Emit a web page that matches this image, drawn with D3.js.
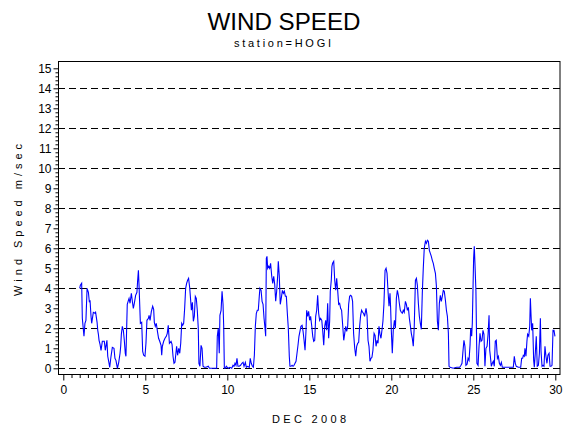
<!DOCTYPE html>
<html>
<head>
<meta charset="utf-8">
<script src="https://cdn.jsdelivr.net/npm/d3@7"></script>
<style>
  body { margin: 0; background: #fff; }
  text { font-family: "Liberation Sans", Arial, sans-serif; fill: #000; }
</style>
</head>
<body>
<svg width="570" height="430"></svg>
<script>
const obsDay = [
  1.00,1.04,1.12,1.16,1.26,1.32,1.38,1.45,1.53,1.59,1.63,1.69,1.73,1.83,1.93,1.97,
  2.06,2.10,2.14,2.18,2.24,2.30,2.38,2.50,2.56,2.66,2.71,2.79,2.83,2.91,2.99,
  3.09,3.15,3.21,3.30,3.38,3.46,3.50,3.54,3.60,3.66,3.72,3.78,3.82,3.86,3.90,3.97,
  4.01,4.07,4.15,4.21,4.27,4.33,4.41,4.49,4.53,4.58,4.62,4.70,4.78,4.84,4.90,4.98,
  5.04,5.10,5.19,5.23,5.29,5.37,5.45,5.51,5.55,5.61,5.67,5.75,5.81,5.88,5.96,
  6.00,6.04,6.12,6.20,6.28,6.34,6.40,6.47,6.57,6.63,6.69,6.75,6.81,6.91,6.97,
  7.04,7.10,7.16,7.22,7.28,7.34,7.40,7.46,7.52,7.58,7.64,7.71,7.77,7.81,7.87,7.93,7.99,
  8.05,8.11,8.17,8.23,8.27,8.33,8.40,8.46,8.52,8.60,8.70,8.84,8.91,
  9.35,9.39,9.45,9.51,9.55,9.62,9.68,9.74,9.78,9.82,9.88,9.94,
  10.00,10.06,10.16,10.27,10.35,10.41,10.47,10.53,10.59,10.65,10.73,10.81,10.89,10.96,
  11.02,11.10,11.16,11.24,11.34,11.40,11.46,11.53,11.59,11.65,11.71,11.77,11.83,11.89,11.95,11.99,
  12.06,12.12,12.18,12.24,12.30,12.34,12.38,12.42,12.46,12.52,12.58,12.64,12.71,12.77,12.83,12.89,12.95,
  13.01,13.07,13.11,13.17,13.23,13.29,13.36,13.42,13.48,13.54,13.60,13.66,13.72,13.78,13.82,13.88,13.95,
  14.01,14.07,14.13,14.19,14.25,14.31,14.37,14.43,14.49,14.56,14.62,14.68,14.74,14.80,14.84,14.90,14.96,
  15.02,15.08,15.15,15.21,15.27,15.33,15.39,15.45,15.51,15.57,15.63,15.69,15.76,15.82,15.88,15.94,
  16.00,16.06,16.12,16.18,16.24,16.28,16.34,16.38,16.42,16.49,16.55,16.61,16.67,16.73,16.79,16.85,16.91,16.97,
  17.04,17.10,17.16,17.22,17.28,17.34,17.40,17.46,17.52,17.58,17.64,17.70,17.77,17.83,17.89,17.95,
  18.01,18.07,18.13,18.19,18.25,18.31,18.37,18.46,18.52,18.58,18.64,18.70,18.76,18.82,18.88,18.95,
  19.01,19.07,19.13,19.19,19.25,19.31,19.37,19.43,19.49,19.55,19.62,19.68,19.74,19.80,19.86,19.92,19.96,
  20.00,20.06,20.12,20.19,20.25,20.31,20.37,20.43,20.49,20.55,20.61,20.67,20.73,20.79,20.86,20.92,20.98,
  21.04,21.10,21.16,21.22,21.28,21.34,21.40,21.47,21.53,21.59,21.65,21.71,21.77,21.83,21.89,21.95,
  22.01,22.08,22.14,22.20,22.26,22.32,22.38,22.44,22.50,22.56,22.62,22.69,22.75,22.81,22.87,22.93,22.99,
  23.05,23.11,23.17,23.23,23.30,23.36,23.42,23.48,23.52,23.58,23.78,23.99,
  24.17,24.25,24.31,24.37,24.43,24.49,24.55,24.62,24.68,24.74,24.80,24.84,24.90,24.94,24.98,
  25.02,25.06,25.10,25.16,25.22,25.29,25.35,25.41,25.47,25.53,25.59,25.65,25.71,25.77,25.84,25.90,25.96,
  26.00,26.04,26.10,26.16,26.22,26.28,26.34,26.40,26.47,26.53,26.59,26.65,26.71,26.77,
  27.44,27.50,27.56,27.62,27.75,27.89,27.95,
  28.01,28.05,28.11,28.15,28.21,28.27,28.31,28.38,28.44,28.48,28.52,28.56,28.62,28.68,28.72,28.78,28.84,28.90,28.97,
  29.03,29.09,29.13,29.19,29.25,29.31,29.37,29.43,29.49,29.55,29.62,29.68,29.74,29.80,29.86,29.92,29.98
];
const windSpeed = [
  4.0,4.15,4.25,2.5,1.6,2.25,2.4,4.0,3.8,3.3,3.4,2.6,2.25,2.8,2.75,2.8,
  2.3,1.9,1.7,1.4,1.2,0.9,1.35,1.35,0.9,1.4,0.6,0.25,0.05,0.6,1.05,
  1.0,0.5,0.4,0.0,0.3,0.75,1.1,1.7,2.1,1.9,1.4,0.75,0.6,1.9,3.2,3.4,
  3.5,3.25,3.75,3.35,3.0,3.25,3.65,3.8,4.35,4.9,4.1,2.25,2.3,0.85,0.65,0.6,
  1.25,2.4,2.5,2.65,2.4,2.85,3.1,2.95,2.3,2.1,2.25,1.8,1.5,1.35,1.15,
  0.65,1.1,1.35,1.5,1.6,1.75,2.15,1.25,1.35,1.2,0.6,0.25,0.3,1.1,0.65,
  1.0,0.75,1.25,2.25,2.15,2.25,3.0,4.0,4.25,4.4,4.5,4.0,3.35,2.9,3.3,2.35,2.6,
  3.6,3.5,2.9,2.0,0.25,0.1,1.15,1.0,0.1,0.05,0.05,0.1,0.0,
  0.0,1.6,2.0,0.75,2.65,2.9,3.85,3.2,2.1,0.0,0.0,0.1,
  0.05,0.0,0.05,0.0,0.15,0.1,0.25,0.15,0.5,0.1,0.1,0.15,0.25,0.3,
  0.1,0.3,0.05,0.1,0.05,0.5,0.25,0.1,0.05,0.65,2.1,2.75,2.9,2.9,3.6,4.0,
  3.9,3.35,3.2,2.5,2.0,1.6,5.5,5.6,5.0,5.1,5.0,5.25,4.6,4.25,4.6,4.2,3.35,
  3.85,4.6,5.35,4.6,3.2,3.5,3.9,3.75,3.85,3.6,3.6,2.75,2.0,0.6,0.1,0.1,0.15,
  0.1,0.15,0.25,0.35,0.75,1.15,1.6,1.85,2.1,2.15,1.85,1.4,0.9,1.9,2.9,2.6,2.85,
  2.4,2.6,2.1,1.6,1.35,1.4,2.6,2.9,3.65,2.75,2.4,2.5,2.4,1.85,1.15,2.1,
  2.4,1.9,3.25,1.5,2.35,3.85,4.4,5.1,5.25,5.35,4.4,3.9,4.5,3.9,3.2,3.25,3.0,2.9,
  2.1,1.4,1.75,2.1,1.85,2.1,3.2,3.6,3.65,3.6,3.35,1.75,1.0,0.6,1.1,1.25,
  1.3,2.1,2.65,2.9,2.8,2.75,2.6,3.0,2.65,1.4,1.1,0.35,0.5,0.55,0.9,1.75,
  1.65,1.1,1.4,1.25,2.1,1.7,1.5,1.9,2.35,3.2,4.9,5.0,4.75,3.85,3.1,3.75,3.0,
  1.9,0.75,1.9,2.4,2.0,3.5,3.9,3.65,3.25,2.9,2.8,2.75,2.9,2.8,3.35,3.2,2.9,
  3.05,2.5,2.15,1.75,1.5,1.1,2.1,4.4,4.5,4.15,3.25,2.6,2.25,1.95,3.75,5.0,
  6.0,6.35,6.25,6.4,6.35,5.9,5.75,5.6,5.4,5.25,5.0,4.75,4.1,2.35,1.9,3.25,3.65,
  3.35,3.6,3.9,3.85,3.4,2.9,2.6,1.75,0.1,0.05,0.0,0.05,
  0.05,0.15,0.25,0.85,1.4,1.1,0.15,0.2,0.5,0.4,1.15,2.0,1.6,2.25,3.9,
  5.5,6.1,5.25,3.85,0.25,0.15,1.1,1.75,1.35,1.4,1.9,1.7,0.1,1.0,1.1,1.7,2.65,
  0.9,0.6,0.1,0.25,0.35,0.1,1.35,1.4,0.5,0.6,0.25,0.15,0.3,0.05,
  0.05,0.6,0.25,0.1,0.05,0.05,0.5,
  0.5,0.65,0.6,1.0,0.6,1.35,1.7,1.6,2.1,3.5,2.65,1.9,2.25,0.4,0.05,0.75,1.6,0.1,0.15,
  0.75,2.5,0.85,0.1,0.15,0.1,1.1,0.6,0.25,0.65,0.75,0.1,0.1,0.15,1.9,1.9,1.6
];

const yTicks = d3.range(0, 16);          // 0 .. 15
const gridLevels = [0, 2, 4, 6, 8, 10, 12, 14];
const xTicks = [0, 5, 10, 15, 20, 25, 30];

const titleText = 'WIND SPEED';
const subtitleText = 'station=HOGI';
const xLabel = 'DEC 2008';
const yLabel = 'Wind Speed m/sec';

const box = {l: 58, r: 560.5, t: 61, b: 374};

const svg = d3.select('svg');

const scaleX = d3.scaleLinear().domain([0, 30]).range([63.3, 555.3]);
const scaleY = d3.scaleLinear().domain([0, 15]).range([368.3, 68.3]);

// titles
svg.append('text')
    .attr('x', 284).attr('y', 29.5)
    .attr('text-anchor', 'middle')
    .attr('font-size', 24.5)
    .attr('textLength', 153).attr('lengthAdjust', 'spacingAndGlyphs')
    .text(titleText);

svg.append('text')
    .attr('x', 282.5).attr('y', 46.5)
    .attr('text-anchor', 'middle')
    .attr('font-size', 11)
    .attr('textLength', 97).attr('lengthAdjust', 'spacing')
    .text(subtitleText);

// dashed reference lines
svg.append('g')
    .selectAll('line')
    .data(gridLevels)
    .join('line')
    .attr('x1', box.l).attr('x2', box.r)
    .attr('y1', d => Math.round(scaleY(d)) + 0.5)
    .attr('y2', d => Math.round(scaleY(d)) + 0.5)
    .attr('stroke', '#000')
    .attr('stroke-dasharray', '7,4');

// frame
svg.append('rect')
    .attr('x', box.l + 0.5).attr('y', box.t + 0.5)
    .attr('width', box.r - box.l - 1).attr('height', box.b - box.t)
    .attr('fill', 'none')
    .attr('stroke', '#000');

// y axis
let axisY = d3.axisLeft(scaleY)
    .tickValues(yTicks)
    .tickSize(5)
    .tickFormat(d3.format('d'));
let axisYG = svg.append('g')
    .attr('transform', `translate(${box.l + 0.5}, 0)`)
    .call(axisY);
axisYG.select('.domain').remove();
axisYG.selectAll('text')
    .attr('font-size', 12)
    .attr('font-family', '"Liberation Sans", Arial, sans-serif')
    .attr('x', -7);

let minorY = d3.axisLeft(scaleY)
    .tickValues(d3.range(0, 75).map(i => i * 0.2).filter(v => Math.abs(v - Math.round(v)) > 0.01))
    .tickSize(3)
    .tickFormat('');
let minorYG = svg.append('g')
    .attr('transform', `translate(${box.l + 0.5}, 0)`)
    .call(minorY);
minorYG.select('.domain').remove();

// x axis
let axisX = d3.axisBottom(scaleX)
    .tickValues(xTicks)
    .tickSize(6)
    .tickFormat(d3.format('d'));
let axisXG = svg.append('g')
    .attr('transform', `translate(0, ${box.b + 0.5})`)
    .call(axisX);
axisXG.select('.domain').remove();
axisXG.selectAll('text')
    .attr('font-size', 12)
    .attr('font-family', '"Liberation Sans", Arial, sans-serif')
    .attr('y', 11);

let minorX = d3.axisBottom(scaleX)
    .tickValues(d3.range(0, 61).map(i => i * 0.5).filter(v => v % 5 !== 0))
    .tickSize(3.5)
    .tickFormat('');
let minorXG = svg.append('g')
    .attr('transform', `translate(0, ${box.b + 0.5})`)
    .call(minorX);
minorXG.select('.domain').remove();

// axis labels
svg.append('text')
    .attr('x', 309).attr('y', 423)
    .attr('text-anchor', 'middle')
    .attr('font-size', 11)
    .attr('textLength', 74).attr('lengthAdjust', 'spacing')
    .text(xLabel);

svg.append('text')
    .attr('transform', 'translate(22, 220) rotate(-90)')
    .attr('text-anchor', 'middle')
    .attr('font-size', 11)
    .attr('textLength', 152).attr('lengthAdjust', 'spacing')
    .text(yLabel);

// wind speed trace
const series = obsDay.map((d, i) => ({day: d, speed: windSpeed[i]}));
const line = d3.line()
    .x(d => scaleX(d.day))
    .y(d => scaleY(d.speed));

svg.append('path')
    .datum(series)
    .attr('d', line)
    .attr('fill', 'none')
    .attr('stroke', '#0000ff')
    .attr('stroke-width', 1.1);
</script>
</body>
</html>
